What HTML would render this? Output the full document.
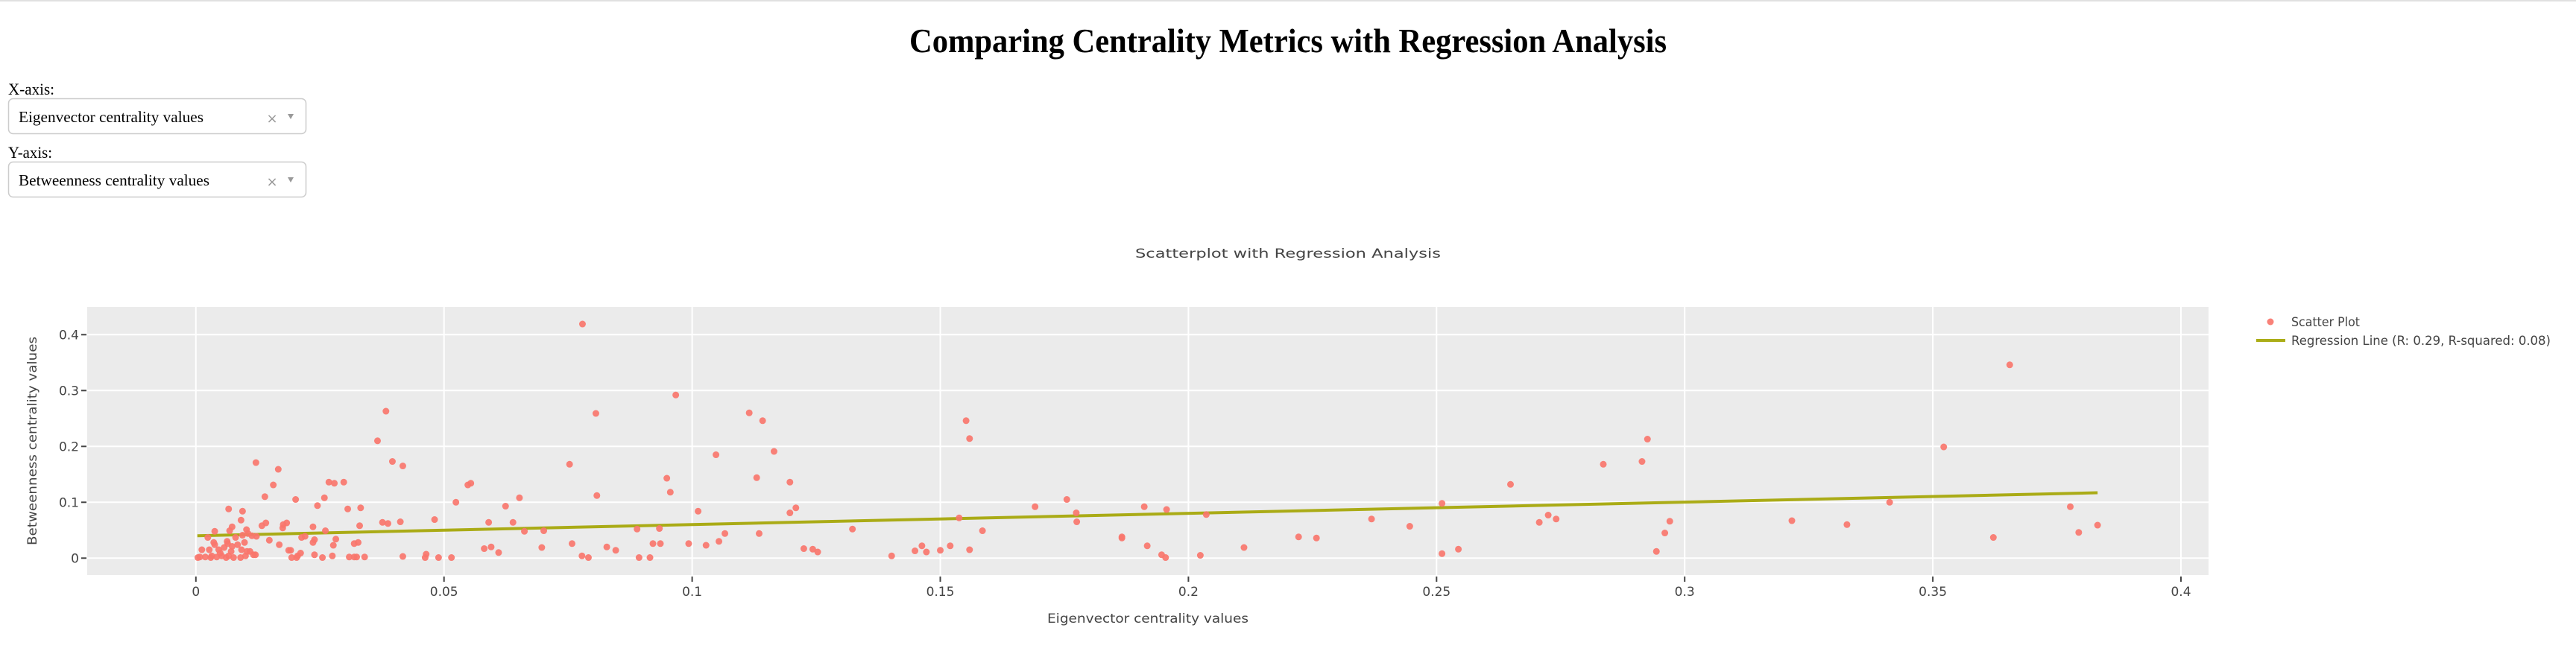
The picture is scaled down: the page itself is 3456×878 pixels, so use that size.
<!DOCTYPE html>
<html><head><meta charset="utf-8"><style>
html,body{margin:0;padding:0;background:#fff;width:3456px;height:878px;overflow:hidden}
svg{display:block}
.tk{font-family:"DejaVu Sans","Liberation Sans",sans-serif;fill:#444;font-size:17px}
.sf{font-family:"Liberation Serif",serif;fill:#000}
</style></head><body>
<svg id="chart" width="3456" height="878" viewBox="0 0 3456 878">
<rect x="0" y="0" width="3456" height="2" fill="#e0e0e0"/>
<text class="sf" x="1728" y="70" text-anchor="middle" font-size="46" font-weight="bold" textLength="1016" lengthAdjust="spacingAndGlyphs">Comparing Centrality Metrics with Regression Analysis</text>
<text class="sf" x="11" y="127" font-size="22" textLength="62" lengthAdjust="spacingAndGlyphs">X-axis:</text>
<g>
<rect x="11.5" y="132.5" width="399" height="47" rx="6" fill="#fff" stroke="#ccc" stroke-width="1.5"/>
<text class="sf" x="25" y="164" font-size="21" textLength="248" lengthAdjust="spacingAndGlyphs">Eigenvector centrality values</text>
<text x="365" y="165" font-family="DejaVu Sans,sans-serif" font-size="18" fill="#999" text-anchor="middle">×</text>
<path d="M386 153 L394 153 L390 160 Z" fill="#999"/>
</g>
<text class="sf" x="11" y="212" font-size="22" textLength="59" lengthAdjust="spacingAndGlyphs">Y-axis:</text>
<g>
<rect x="11.5" y="217.5" width="399" height="47" rx="6" fill="#fff" stroke="#ccc" stroke-width="1.5"/>
<text class="sf" x="25" y="249" font-size="21" textLength="256" lengthAdjust="spacingAndGlyphs">Betweenness centrality values</text>
<text x="365" y="250" font-family="DejaVu Sans,sans-serif" font-size="18" fill="#999" text-anchor="middle">×</text>
<path d="M386 238 L394 238 L390 245 Z" fill="#999"/>
</g>
<text class="tk" x="1728" y="346" font-size="22" text-anchor="middle" textLength="410" lengthAdjust="spacingAndGlyphs">Scatterplot with Regression Analysis</text>
<rect x="117" y="412" width="2846" height="360" fill="#ebebeb"/>
<g id="grid"></g>
<g id="xticks"></g>
<g id="yticks"></g>
<g id="reg"></g>
<g id="pts"></g>
<text class="tk" x="1540" y="836" text-anchor="middle" font-size="18" textLength="270" lengthAdjust="spacingAndGlyphs">Eigenvector centrality values</text>
<text class="tk" transform="translate(49,592) rotate(-90)" text-anchor="middle" font-size="18" textLength="280" lengthAdjust="spacingAndGlyphs">Betweenness centrality values</text>
<g>
<circle cx="3046" cy="432" r="4.5" fill="#F8766D" opacity="0.92"/>
<text class="tk" x="3074" y="438" textLength="92" lengthAdjust="spacingAndGlyphs">Scatter Plot</text>
<line x1="3027" y1="457" x2="3066" y2="457" stroke="#A3A500" stroke-width="4" opacity="0.9"/>
<text class="tk" x="3074" y="463" textLength="348" lengthAdjust="spacingAndGlyphs">Regression Line (R: 0.29, R-squared: 0.08)</text>
</g>
</svg>
<script>
const xTicks=[0,0.05,0.1,0.15,0.2,0.25,0.3,0.35,0.4];
const xTickLabels=["0","0.05","0.1","0.15","0.2","0.25","0.3","0.35","0.4"];
const yTicks=[0,0.1,0.2,0.3,0.4];
const yTickLabels=["0","0.1","0.2","0.3","0.4"];
const regX=[0.0003,0.3832];
const regY=[0.040,0.117];
const xVals=[0.0779,0.0967,0.0806,0.0383,0.0366,0.0396,0.0417,0.0121,0.0166,0.0156,0.0139,0.0201,0.0268,0.0279,0.0298,0.0259,0.0245,0.0306,0.0332,0.0066,0.0094,0.0091,0.0073,0.0068,0.0102,0.0038,0.0133,0.0141,0.0176,0.0183,0.0175,0.0236,0.0261,0.0330,0.0376,0.0387,0.0412,0.0481,0.0524,0.0548,0.0554,0.0590,0.0624,0.0639,0.0652,0.0662,0.0701,0.0753,0.0808,0.0889,0.0934,0.0949,0.0956,0.1012,0.1048,0.1066,0.1054,0.1028,0.0993,0.0936,0.0921,0.0915,0.0893,0.0846,0.0828,0.0791,0.0778,0.0758,0.0697,0.0610,0.0595,0.0581,0.0515,0.0489,0.0464,0.0462,0.0417,0.0340,0.0324,0.0319,0.0309,0.0327,0.0319,0.0282,0.0277,0.0275,0.0255,0.0239,0.0239,0.0236,0.0220,0.0213,0.0211,0.0203,0.0193,0.0205,0.0191,0.0187,0.0168,0.0148,
0.0004,0.0008,0.0012,0.0019,0.0024,0.0027,0.0030,0.0032,0.0036,0.0038,0.0042,0.0046,0.0049,0.0052,0.0057,0.0061,0.0063,0.0064,0.0066,0.0071,0.0073,0.0076,0.0080,0.0084,0.0090,0.0092,0.0094,0.0098,0.0100,0.0103,0.0105,0.0109,0.0113,0.0116,0.0120,0.0122,
0.1115,0.1142,0.1165,0.1130,0.1197,0.1209,0.1197,0.1135,0.1225,0.1243,0.1253,0.1323,0.1402,0.1449,0.1463,0.1472,0.1500,0.1520,0.1538,0.1552,0.1559,0.1559,0.1585,0.1691,0.1755,0.1774,0.1775,0.1866,0.1866,0.1911,0.1917,0.1946,0.1954,0.1956,0.2024,0.2036,0.2112,0.2222,0.2258,0.2369,
0.2446,0.2511,0.2511,0.2544,0.2649,0.2707,0.2725,0.2741,0.2836,0.2914,0.2925,0.2943,0.2960,0.2970,0.3216,0.3327,0.3413,0.3522,0.3622,0.3655,0.3777,0.3794,0.3832];
const yVals=[0.419,0.292,0.259,0.263,0.210,0.173,0.165,0.171,0.159,0.131,0.110,0.105,0.136,0.134,0.136,0.108,0.094,0.088,0.090,0.088,0.084,0.068,0.056,0.049,0.051,0.048,0.058,0.063,0.060,0.063,0.054,0.056,0.049,0.058,0.064,0.062,0.065,0.069,0.100,0.131,0.134,0.064,0.093,0.064,0.108,0.048,0.049,0.168,0.112,0.052,0.053,0.143,0.118,0.084,0.185,0.044,0.030,0.023,0.026,0.026,0.026,0.001,0.001,0.014,0.020,0.001,0.004,0.026,0.019,0.010,0.020,0.017,0.001,0.001,0.007,0.001,0.003,0.002,0.002,0.002,0.002,0.028,0.026,0.034,0.023,0.004,0.001,0.006,0.033,0.028,0.039,0.037,0.009,0.001,0.001,0.004,0.014,0.014,0.024,0.032,
0.001,0.002,0.015,0.002,0.037,0.015,0.001,0.004,0.028,0.024,0.002,0.015,0.009,0.004,0.019,0.001,0.030,0.026,0.004,0.012,0.021,0.001,0.037,0.024,0.001,0.015,0.041,0.028,0.004,0.012,0.044,0.012,0.040,0.006,0.006,0.039,
0.260,0.246,0.191,0.144,0.136,0.090,0.081,0.044,0.017,0.016,0.011,0.052,0.004,0.013,0.022,0.011,0.014,0.022,0.072,0.246,0.214,0.015,0.049,0.092,0.105,0.081,0.065,0.038,0.036,0.092,0.022,0.006,0.001,0.087,0.005,0.078,0.019,0.038,0.036,0.070,
0.057,0.098,0.008,0.016,0.132,0.064,0.077,0.070,0.168,0.173,0.213,0.012,0.045,0.066,0.067,0.060,0.100,0.199,0.037,0.346,0.092,0.046,0.059];

const NS="http://www.w3.org/2000/svg";
const X0=262.8, XS=6658, Y0=749.3, YS=750;
function sx(v){return X0+v*XS;}
function sy(v){return Y0-v*YS;}
function mk(tag,attrs,parent){const e=document.createElementNS(NS,tag);for(const k in attrs)e.setAttribute(k,attrs[k]);parent.appendChild(e);return e;}
const grid=document.getElementById('grid'),xt=document.getElementById('xticks'),yt=document.getElementById('yticks');
xTicks.forEach((t,i)=>{
  const g=mk('line',{x1:sx(t),x2:sx(t),y1:412,y2:772,stroke:'#fff','stroke-width':2},grid);
  
  
  const tm=mk('line',{x1:sx(t),x2:sx(t),y1:774,y2:781,stroke:'#444','stroke-width':2},xt);
  
  
  const lb=mk('text',{x:sx(t),y:800,'text-anchor':'middle',class:'tk'},xt);
  lb.textContent=xTickLabels[i];
  
  
});
yTicks.forEach((t,i)=>{
  const g=mk('line',{x1:117,x2:2963,y1:sy(t),y2:sy(t),stroke:'#fff','stroke-width':2},grid);
  
  
  const tm=mk('line',{x1:109,x2:116,y1:sy(t),y2:sy(t),stroke:'#444','stroke-width':2},yt);
  
  
  const lb=mk('text',{x:106,y:sy(t)+6,'text-anchor':'end',class:'tk'},yt);
  lb.textContent=yTickLabels[i];
  
  
});
const pts=document.getElementById('pts');
for(let i=0;i<xVals.length;i++){
  const c=mk('circle',{cx:sx(xVals[i]),cy:sy(yVals[i]),r:4.5,fill:'#F8766D',opacity:0.92},pts);
  
  
}
const rl=mk('line',{x1:sx(regX[0]),y1:sy(regY[0]),x2:sx(regX[1]),y2:sy(regY[1]),stroke:'#A3A500','stroke-width':4,opacity:0.9},document.getElementById('reg'));


</script>
</body></html>
